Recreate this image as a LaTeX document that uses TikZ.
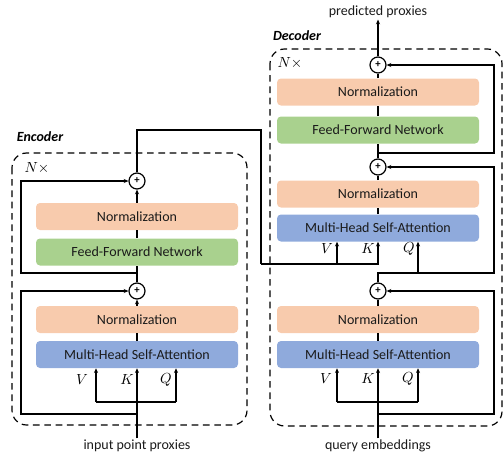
\documentclass[tikz,border=0pt]{standalone}
\usepackage{fontspec}
\setmainfont{Carlito}
\usepackage{xcolor}
\usetikzlibrary{arrows.meta,positioning}
\definecolor{tfPeach}{HTML}{F8CBAD}
\definecolor{tfGreen}{HTML}{A9D18E}
\definecolor{tfBlue}{HTML}{8FAADC}
\definecolor{tfInk}{HTML}{1A1A1A}
\tikzset{
  layer/.style={rounded corners=3pt,minimum width=151.5pt,minimum height=20.25pt,
    inner sep=0pt,text=tfInk,font=\fontsize{10.5}{12}\selectfont},
  addop/.style={circle,draw,line width=0.9pt,fill=white,minimum size=12pt,inner sep=0pt,
    font=\bfseries\fontsize{8}{8}\selectfont},
  flow/.style={line width=0.9pt,-{Stealth[length=3.5pt,width=3pt]}},
  wire/.style={line width=0.9pt},
  stack/.style={line width=0.9pt,rounded corners=11pt,dash pattern=on 5pt off 3.5pt},
  caption/.style={inner sep=1pt,text=tfInk,font=\fontsize{10.5}{12}\selectfont},
  qkv/.style={inner sep=0pt,font=\fontsize{10.5}{12}\selectfont},
}

\begin{document}
\begin{tikzpicture}[x=0.75pt,y=-0.75pt]
  \useasboundingbox (0,0) rectangle (503,454);
  % encoder
  \draw[stack] (12,153) rectangle (247,425);
  \node[font=\bfseries\itshape\fontsize{10.5}{12}\selectfont] (enclab) at (40,137) {Encoder};
  \node[qkv] (encrep) at (37,168) {$N\times$};
  \node[layer,fill=tfBlue] (emhsa) at (137,354.5) {Multi-Head Self-Attention};
  \node[layer,fill=tfPeach] (enorma) at (137,319.5) {Normalization};
  \node[addop] (eadd1) at (137,291) {+};
  \node[layer,fill=tfGreen] (effn) at (137,252) {Feed-Forward Network};
  \node[layer,fill=tfPeach] (enormb) at (137,216.5) {Normalization};
  \node[addop] (eadd2) at (137,181) {+};
  \node[caption] (ein) at (137,446) {input point proxies};
  \node[qkv] (eV) at (82,380) {$V$};
  \node[qkv] (eK) at (127,380) {$K$};
  \node[qkv] (eQ) at (166,380) {$Q$};
  \coordinate (efL) at (96,402);
  \coordinate (efR) at (176,402);
  \coordinate (eloop) at (21,414);
  \coordinate (eskip) at (21,273);
  \draw[flow] (ein) -- (emhsa);
  \draw[wire] (efL) -- (efR);
  \draw[flow] (efL) -- (efL |- emhsa.south);
  \draw[flow] (efR) -- (efR |- emhsa.south);
  \draw[flow] (ein.north |- eloop) -- (eloop) |- (eadd1);
  \draw[wire] (emhsa) -- (enorma);
  \draw[flow] (enorma) -- (eadd1);
  \draw[wire] (eadd1) -- (effn);
  \draw[wire] (effn) -- (enormb);
  \draw[flow] (enormb) -- (eadd2);
  \draw[flow] (effn.south |- eskip) -- (eskip) |- (eadd2);

  % decoder
  \draw[stack] (270,49) rectangle (502,426);
  \node[font=\bfseries\itshape\fontsize{10.5}{12}\selectfont] (declab) at (297,36) {Decoder};
  \node[qkv] (decrep) at (290,63) {$N\times$};
  \node[layer,fill=tfBlue] (dmhsaa) at (378,354.5) {Multi-Head Self-Attention};
  \node[layer,fill=tfPeach] (dnorma) at (378,319.5) {Normalization};
  \node[addop] (dadd1) at (378,291) {+};
  \node[layer,fill=tfBlue] (dmhsab) at (378,228) {Multi-Head Self-Attention};
  \node[layer,fill=tfPeach] (dnormb) at (378,194) {Normalization};
  \node[addop] (dadd2) at (378,167) {+};
  \node[layer,fill=tfGreen] (dffn) at (378,130) {Feed-Forward Network};
  \node[layer,fill=tfPeach] (dnormc) at (378,92) {Normalization};
  \node[addop] (dadd3) at (378,65) {+};
  \node[caption] (din) at (378,446) {query embeddings};
  \node[caption] (dout) at (378,12) {predicted proxies};
  \node[qkv] (dVa) at (326,379) {$V$};
  \node[qkv] (dKa) at (368,379) {$K$};
  \node[qkv] (dQa) at (408,379) {$Q$};
  \node[qkv] (dVb) at (327,249) {$V$};
  \node[qkv] (dKb) at (368,249) {$K$};
  \node[qkv] (dQb) at (409,249) {$Q$};
  \coordinate (dfL) at (337,402);
  \coordinate (dfR) at (418,402);
  \coordinate (dloop) at (494,414);
  \coordinate (dmid) at (494,273);
  \coordinate (dQ) at (418,273);
  \coordinate (dskip) at (494,153);
  \draw[flow] (din) -- (dmhsaa);
  \draw[wire] (dfL) -- (dfR);
  \draw[flow] (dfL) -- (dfL |- dmhsaa.south);
  \draw[flow] (dfR) -- (dfR |- dmhsaa.south);
  \draw[flow] (din.north |- dloop) -- (dloop) |- (dadd1);
  \draw[wire] (dmhsaa) -- (dnorma);
  \draw[wire] (dnorma) -- (dadd1);
  \draw[flow] (dadd1) |- (dmid) |- (dadd2);
  \draw[flow] (dQ) -- (dQ |- dmhsab.south);
  \draw[wire] (dmhsab) -- (dnormb);
  \draw[wire] (dnormb) -- (dadd2);
  \draw[wire] (dadd2) -- (dffn);
  \draw[wire] (dffn) -- (dnormc);
  \draw[wire] (dnormc) -- (dadd3);
  \draw[flow] (dffn.south |- dskip) -- (dskip) |- (dadd3);
  \draw[flow] (dadd3) -- (dout);

  % encoder memory into decoder
  \coordinate (etop) at (137,130);
  \coordinate (xlink) at (261,264);
  \coordinate (xV) at (337,264);
  \draw[wire] (eadd2) -- (etop) -| (xlink);
  \draw[flow] (xlink) -| (dmhsab.south);
  \draw[flow] (xV) -- (xV |- dmhsab.south);
\end{tikzpicture}
\end{document}
